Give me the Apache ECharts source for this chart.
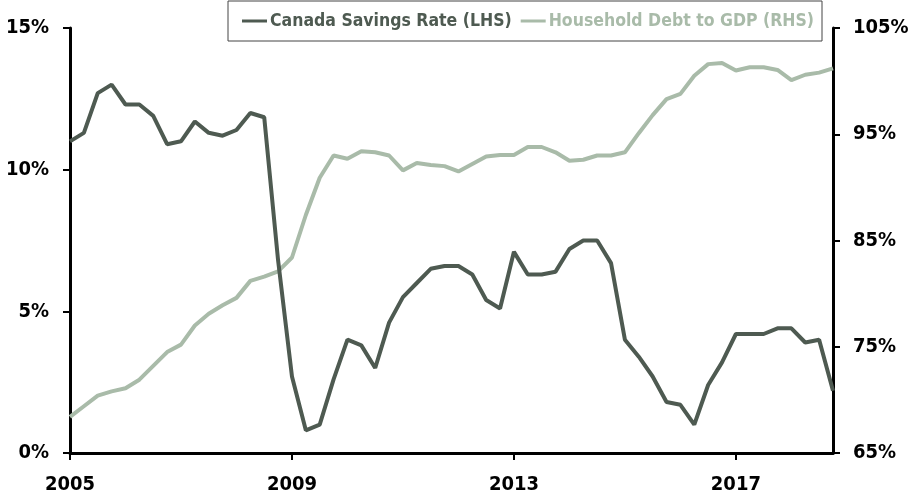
<!DOCTYPE html>
<html>
<head>
<meta charset="utf-8">
<script src="https://cdn.jsdelivr.net/npm/echarts@6/dist/echarts.min.js"></script>
<style>
  html, body { margin: 0; padding: 0; background: #fff; }
  #chart { width: 912px; height: 496px; }
</style>
</head>
<body>
<div id="chart"></div>
<script>
// Quarterly observations, 2005 Q1 through 2018 Q4
const startYear = 2005;
const quarters = [];
for (let y = startYear; y <= 2018; y++) {
  for (let q = 1; q <= 4; q++) quarters.push(y + ' Q' + q);
}

// Household savings rate, % of disposable income (left axis)
const savingsRate = [
  11.0, 11.3, 12.7, 13.0, 12.3, 12.3, 11.9, 10.9,
  11.0, 11.7, 11.3, 11.2, 11.4, 12.0, 11.85, 6.8,
  2.7, 0.8, 1.0, 2.6, 4.0, 3.8, 3.0, 4.6,
  5.5, 6.0, 6.5, 6.6, 6.6, 6.3, 5.4, 5.1,
  7.1, 6.3, 6.3, 6.4, 7.2, 7.5, 7.5, 6.7,
  4.0, 3.4, 2.7, 1.8, 1.7, 1.0, 2.4, 3.2,
  4.2, 4.2, 4.2, 4.4, 4.4, 3.9, 4.0, 2.2
];

// Household debt as % of GDP (right axis)
const debtToGdp = [
  68.4, 69.4, 70.4, 70.8, 71.1, 71.9, 73.2, 74.5,
  75.2, 77.0, 78.1, 78.9, 79.6, 81.2, 81.6, 82.1,
  83.4, 87.4, 90.9, 93.0, 92.7, 93.4, 93.3, 93.0,
  91.6, 92.3, 92.1, 92.0, 91.5, 92.2, 92.9, 93.05,
  93.05, 93.8, 93.8, 93.3, 92.5, 92.6, 93.0, 93.0,
  93.3, 95.1, 96.8, 98.3, 98.8, 100.5, 101.6, 101.7,
  101.0, 101.3, 101.3, 101.05, 100.1, 100.6, 100.8, 101.2
];

const seriesNames = ['Canada Savings Rate (LHS)', 'Household Debt to GDP (RHS)'];
const darkColor = '#4e5a51';
const lightColor = '#a9bba9';
const font = '"DejaVu Sans Condensed", "DejaVu Sans", sans-serif';

const showEveryFourYears = (idx) => idx % 16 === 0;

const chart = echarts.init(document.getElementById('chart'));
chart.setOption({
  animation: false,
  textStyle: { fontFamily: font },
  grid: { left: 70, right: 79, top: 28, bottom: 43, containLabel: false },
  legend: {
    left: 228,
    top: 1,
    padding: [11, 8, 11, 14],
    borderColor: '#444',
    borderWidth: 1,
    itemWidth: 25,
    itemHeight: 3,
    itemGap: 9,
    icon: 'rect',
    textStyle: { fontFamily: font, fontSize: 17.5, fontWeight: 'bold', padding: [0, 0, 0, -2] },
    data: [
      { name: seriesNames[0], textStyle: { color: darkColor } },
      { name: seriesNames[1], textStyle: { color: lightColor } }
    ]
  },
  xAxis: {
    type: 'category',
    data: quarters,
    boundaryGap: false,
    axisLine: { lineStyle: { color: '#000', width: 3 } },
    axisTick: { interval: showEveryFourYears, length: 7, lineStyle: { color: '#000', width: 2 } },
    axisLabel: {
      interval: showEveryFourYears,
      formatter: (v) => v.slice(0, 4),
      color: '#000', fontSize: 20, fontWeight: 'bold', margin: 22
    },
    splitLine: { show: false }
  },
  yAxis: [
    {
      type: 'value', min: 0, max: 15, interval: 5, position: 'left',
      axisLine: { show: true, lineStyle: { color: '#000', width: 3 } },
      axisTick: { show: true, length: 7, lineStyle: { color: '#000', width: 2 } },
      axisLabel: { formatter: '{value}%', color: '#000', fontSize: 20, fontWeight: 'bold', margin: 21 },
      splitLine: { show: false }
    },
    {
      type: 'value', min: 65, max: 105, interval: 10, position: 'right',
      axisLine: { show: true, lineStyle: { color: '#000', width: 3 } },
      axisTick: { show: true, length: 7, lineStyle: { color: '#000', width: 2 } },
      axisLabel: { formatter: '{value}%', color: '#000', fontSize: 20, fontWeight: 'bold', margin: 20 },
      splitLine: { show: false }
    }
  ],
  series: [
    {
      name: seriesNames[0], type: 'line', yAxisIndex: 0, data: savingsRate,
      symbol: 'none', color: darkColor, lineStyle: { width: 4, color: darkColor }, z: 3
    },
    {
      name: seriesNames[1], type: 'line', yAxisIndex: 1, data: debtToGdp,
      symbol: 'none', color: lightColor, lineStyle: { width: 4, color: lightColor }, z: 2
    }
  ]
});
</script>
</body>
</html>
